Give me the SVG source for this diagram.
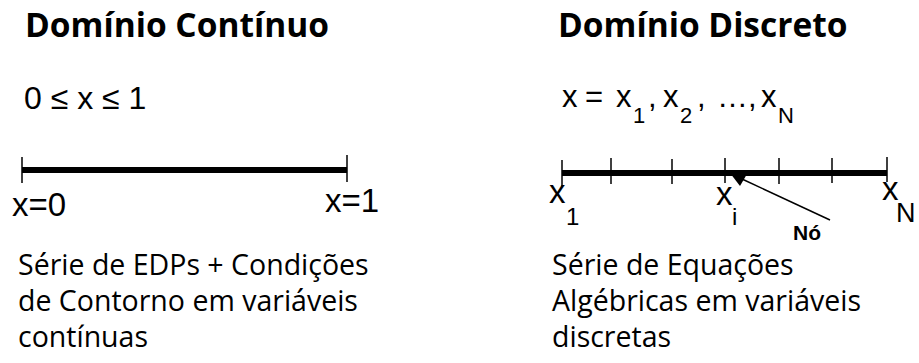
<svg xmlns="http://www.w3.org/2000/svg" width="919" height="363" viewBox="0 0 919 363">
<style>
.title{font-family:"Open Sans","Liberation Sans",sans-serif;font-weight:bold;font-size:33.5px;fill:#000}
.body{font-family:"Open Sans","Liberation Sans",sans-serif;font-size:28.5px;fill:#000}
.math{font-family:"Liberation Sans",Arial,sans-serif;font-size:32px;fill:#000}
.math2{font-family:"Liberation Sans",Arial,sans-serif;font-size:31px;fill:#000}
.lab{font-family:"Liberation Sans",Arial,sans-serif;font-size:33px;fill:#000}
.sub{font-family:"Liberation Sans",Arial,sans-serif;font-size:22px;fill:#000}
.sub2{font-family:"Liberation Sans",Arial,sans-serif;font-size:24px;fill:#000}
.node{font-family:"Liberation Sans",Arial,sans-serif;font-weight:bold;font-size:21px;fill:#000}
.axis{stroke:#000;stroke-width:6;fill:none}
.tick{stroke:#000;stroke-width:1.5;fill:none}
</style>
<rect width="919" height="363" fill="#fff"/>
<g id="continuous">
  <text class="title" x="25" y="37">Domínio Contínuo</text>
  <text class="math" x="24" y="109">0 ≤ x ≤ 1</text>
  <line class="axis" x1="22" y1="170" x2="347" y2="170"/>
  <line class="tick" x1="22" y1="157" x2="22" y2="183"/>
  <line class="tick" x1="347" y1="155" x2="347" y2="182"/>
  <text class="lab" x="12" y="216">x=0</text>
  <text class="lab" x="325" y="212">x=1</text>
  <text class="body" x="18" y="275">Série de EDPs + Condições</text>
  <text class="body" x="18" y="311">de Contorno em variáveis</text>
  <text class="body" x="18" y="347">contínuas</text>
</g>
<g id="discrete">
  <text class="title" x="558" y="37">Domínio Discreto</text>
  <text class="math2" y="107"><tspan x="562">x</tspan><tspan x="585">=</tspan><tspan x="616">x</tspan><tspan class="sub" x="633" y="123">1</tspan><tspan x="648" y="107">,</tspan><tspan x="663">x</tspan><tspan class="sub" x="680" y="123">2</tspan><tspan x="697" y="107">,</tspan><tspan x="717">…</tspan><tspan x="748">,</tspan><tspan x="761">x</tspan><tspan class="sub" x="778" y="123">N</tspan></text>
  <line class="axis" x1="562" y1="173" x2="887" y2="173"/>
  <line class="tick" x1="562" y1="160" x2="562" y2="187"/>
  <line class="tick" x1="611" y1="158" x2="611" y2="184"/>
  <line class="tick" x1="672" y1="159" x2="672" y2="184"/>
  <line class="tick" x1="725" y1="158" x2="725" y2="183"/>
  <line class="tick" x1="779" y1="158" x2="779" y2="184"/>
  <line class="tick" x1="832" y1="158" x2="832" y2="183"/>
  <line class="tick" x1="887" y1="157" x2="887" y2="182"/>
  <text class="lab" x="549" y="203">x<tspan class="sub2" x="566" y="225">1</tspan></text>
  <text class="lab" x="716" y="205">x<tspan class="sub2" x="732" y="225">i</tspan></text>
  <text class="lab" x="882" y="200">x<tspan class="sub2" x="896" y="222" style="font-size:27px">N</tspan></text>
  <text class="body" x="552" y="275">Série de Equações</text>
  <text class="body" x="552" y="311">Algébricas em variáveis</text>
  <text class="body" x="552" y="347">discretas</text>
</g>
<g id="node-label">
  <text class="node" x="793" y="240">Nó</text>
</g>
<g id="connectors">
  <line x1="830" y1="220" x2="742" y2="179" stroke="#000" stroke-width="1.5"/>
  <polygon points="730,173 747,174 740,186" fill="#000"/>
</g>
</svg>
